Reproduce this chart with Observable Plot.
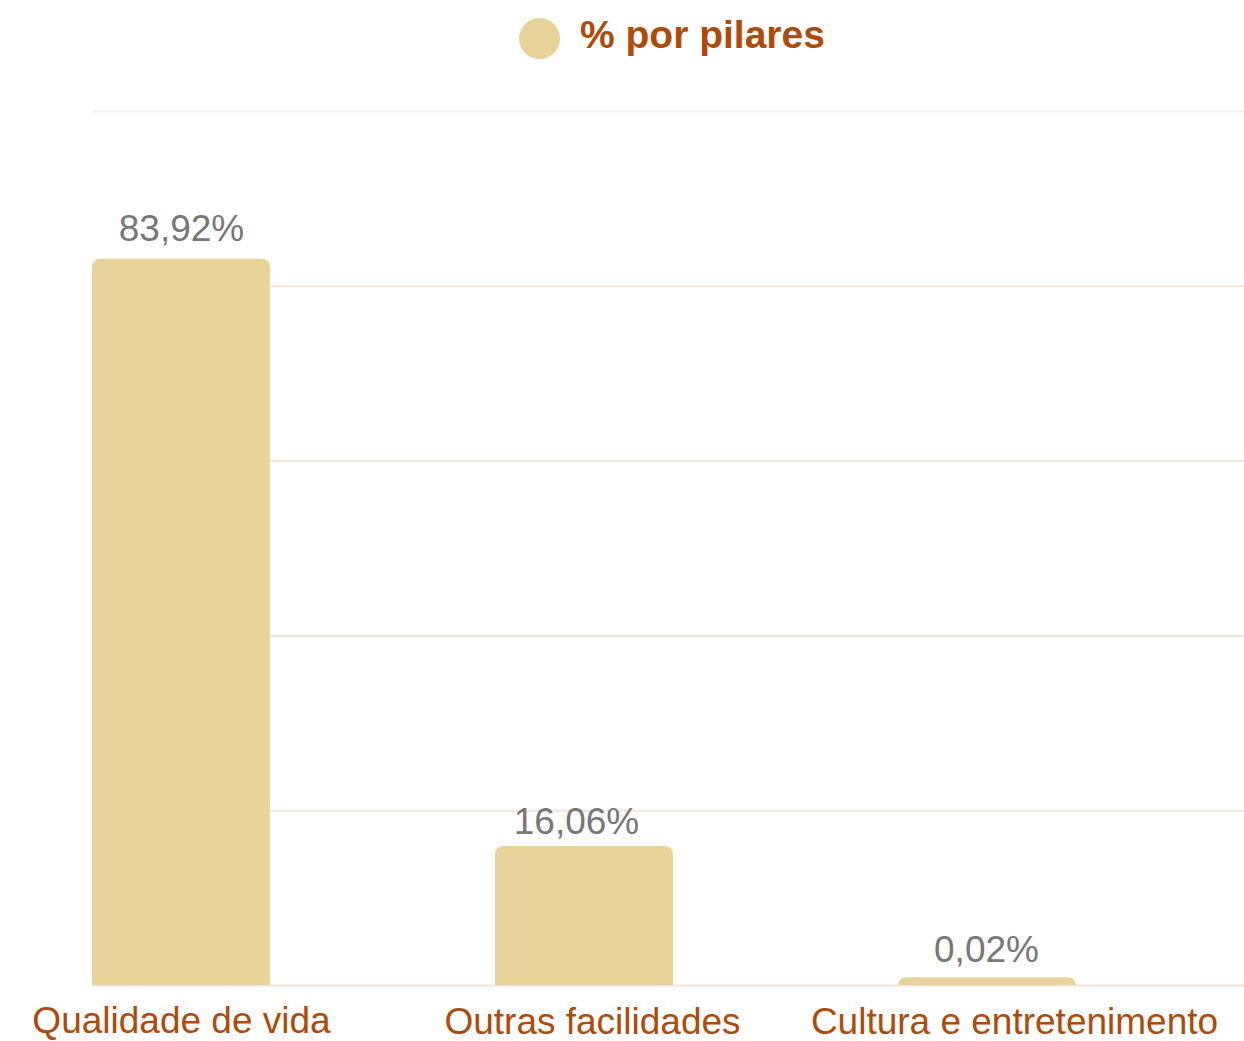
<!DOCTYPE html>
<html>
<head>
<meta charset="utf-8">
<script src="https://cdn.jsdelivr.net/npm/d3@7"></script>
<script src="https://cdn.jsdelivr.net/npm/@observablehq/plot@0.6"></script>
<style>
  body { margin: 0; background: #fff; font-family: "Liberation Sans", Arial, Helvetica, sans-serif; }
  #legend { position: relative; width: 1244px; height: 80px; }
  #legend .sw { position: absolute; left: 519px; top: 18px; width: 41px; height: 41px; border-radius: 50%; background: #e8d39b; }
  #legend .lb { position: absolute; left: 580px; top: 15px; font-size: 39px; line-height: 39px; font-weight: bold; color: #b04a0b; white-space: nowrap; }
</style>
</head>
<body>
<div id="legend"><span class="sw"></span><span class="lb" id="legendLabel"></span></div>
<div id="chart"></div>
<script>
const seriesName = "% por pilares";
const categories = ["Qualidade de vida", "Outras facilidades", "Cultura e entretenimento"];
const values = [83.92, 16.06, 0.02];
const gridValues = [0, 20.2, 40.4, 60.6, 80.8];
const topGrid = [101];

const barColor = "#e8d39b";
const textColor = "#b04a0b";
const minBar = 0.9; // minimum visible bar length (like minBarLength)

document.getElementById("legendLabel").textContent = seriesName;

const data = categories.map((c, i) => ({category: c, value: values[i]}));
const fmt = v => v.toFixed(2).replace(".", ",") + "%";

const labelOffsets = [[0, 47], [8, 48], [27, 48]];
const valueOffsets = [[0, -18], [-8, -13], [-1, -16]];

const chart = Plot.plot({
  width: 1244,
  height: 961,
  marginTop: 31,
  marginBottom: 56,
  marginLeft: 92,
  marginRight: 0,
  style: {fontFamily: '"Liberation Sans", Arial, Helvetica, sans-serif', background: "#fff"},
  x: {type: "band", domain: categories, range: [92, 1076.1], paddingInner: 0.5583, paddingOuter: 0, axis: null},
  y: {domain: [0, 101], axis: null},
  marks: [
    Plot.ruleY(topGrid, {stroke: "#f8f1ea", strokeWidth: 2}),
    Plot.ruleY(gridValues, {stroke: "#f4e4dc", strokeWidth: 2}),
    Plot.barY(data, {x: "category", y1: -2, y2: d => Math.max(d.value, minBar), fill: barColor, rx: 8, clip: true}),
    ...data.map((d, i) => Plot.text([d], {
      x: "category", y: d => Math.max(d.value, minBar), text: d => fmt(d.value),
      dx: valueOffsets[i][0], dy: valueOffsets[i][1],
      lineAnchor: "bottom", fontSize: 37, fill: "#777777"
    })),
    ...categories.map((c, i) => Plot.text([c], {
      x: d => d, frameAnchor: "bottom", text: d => d,
      dx: labelOffsets[i][0], dy: labelOffsets[i][1],
      lineAnchor: "bottom", fontSize: 37, fill: textColor
    }))
  ]
});
document.getElementById("chart").appendChild(chart);
</script>
</body>
</html>
